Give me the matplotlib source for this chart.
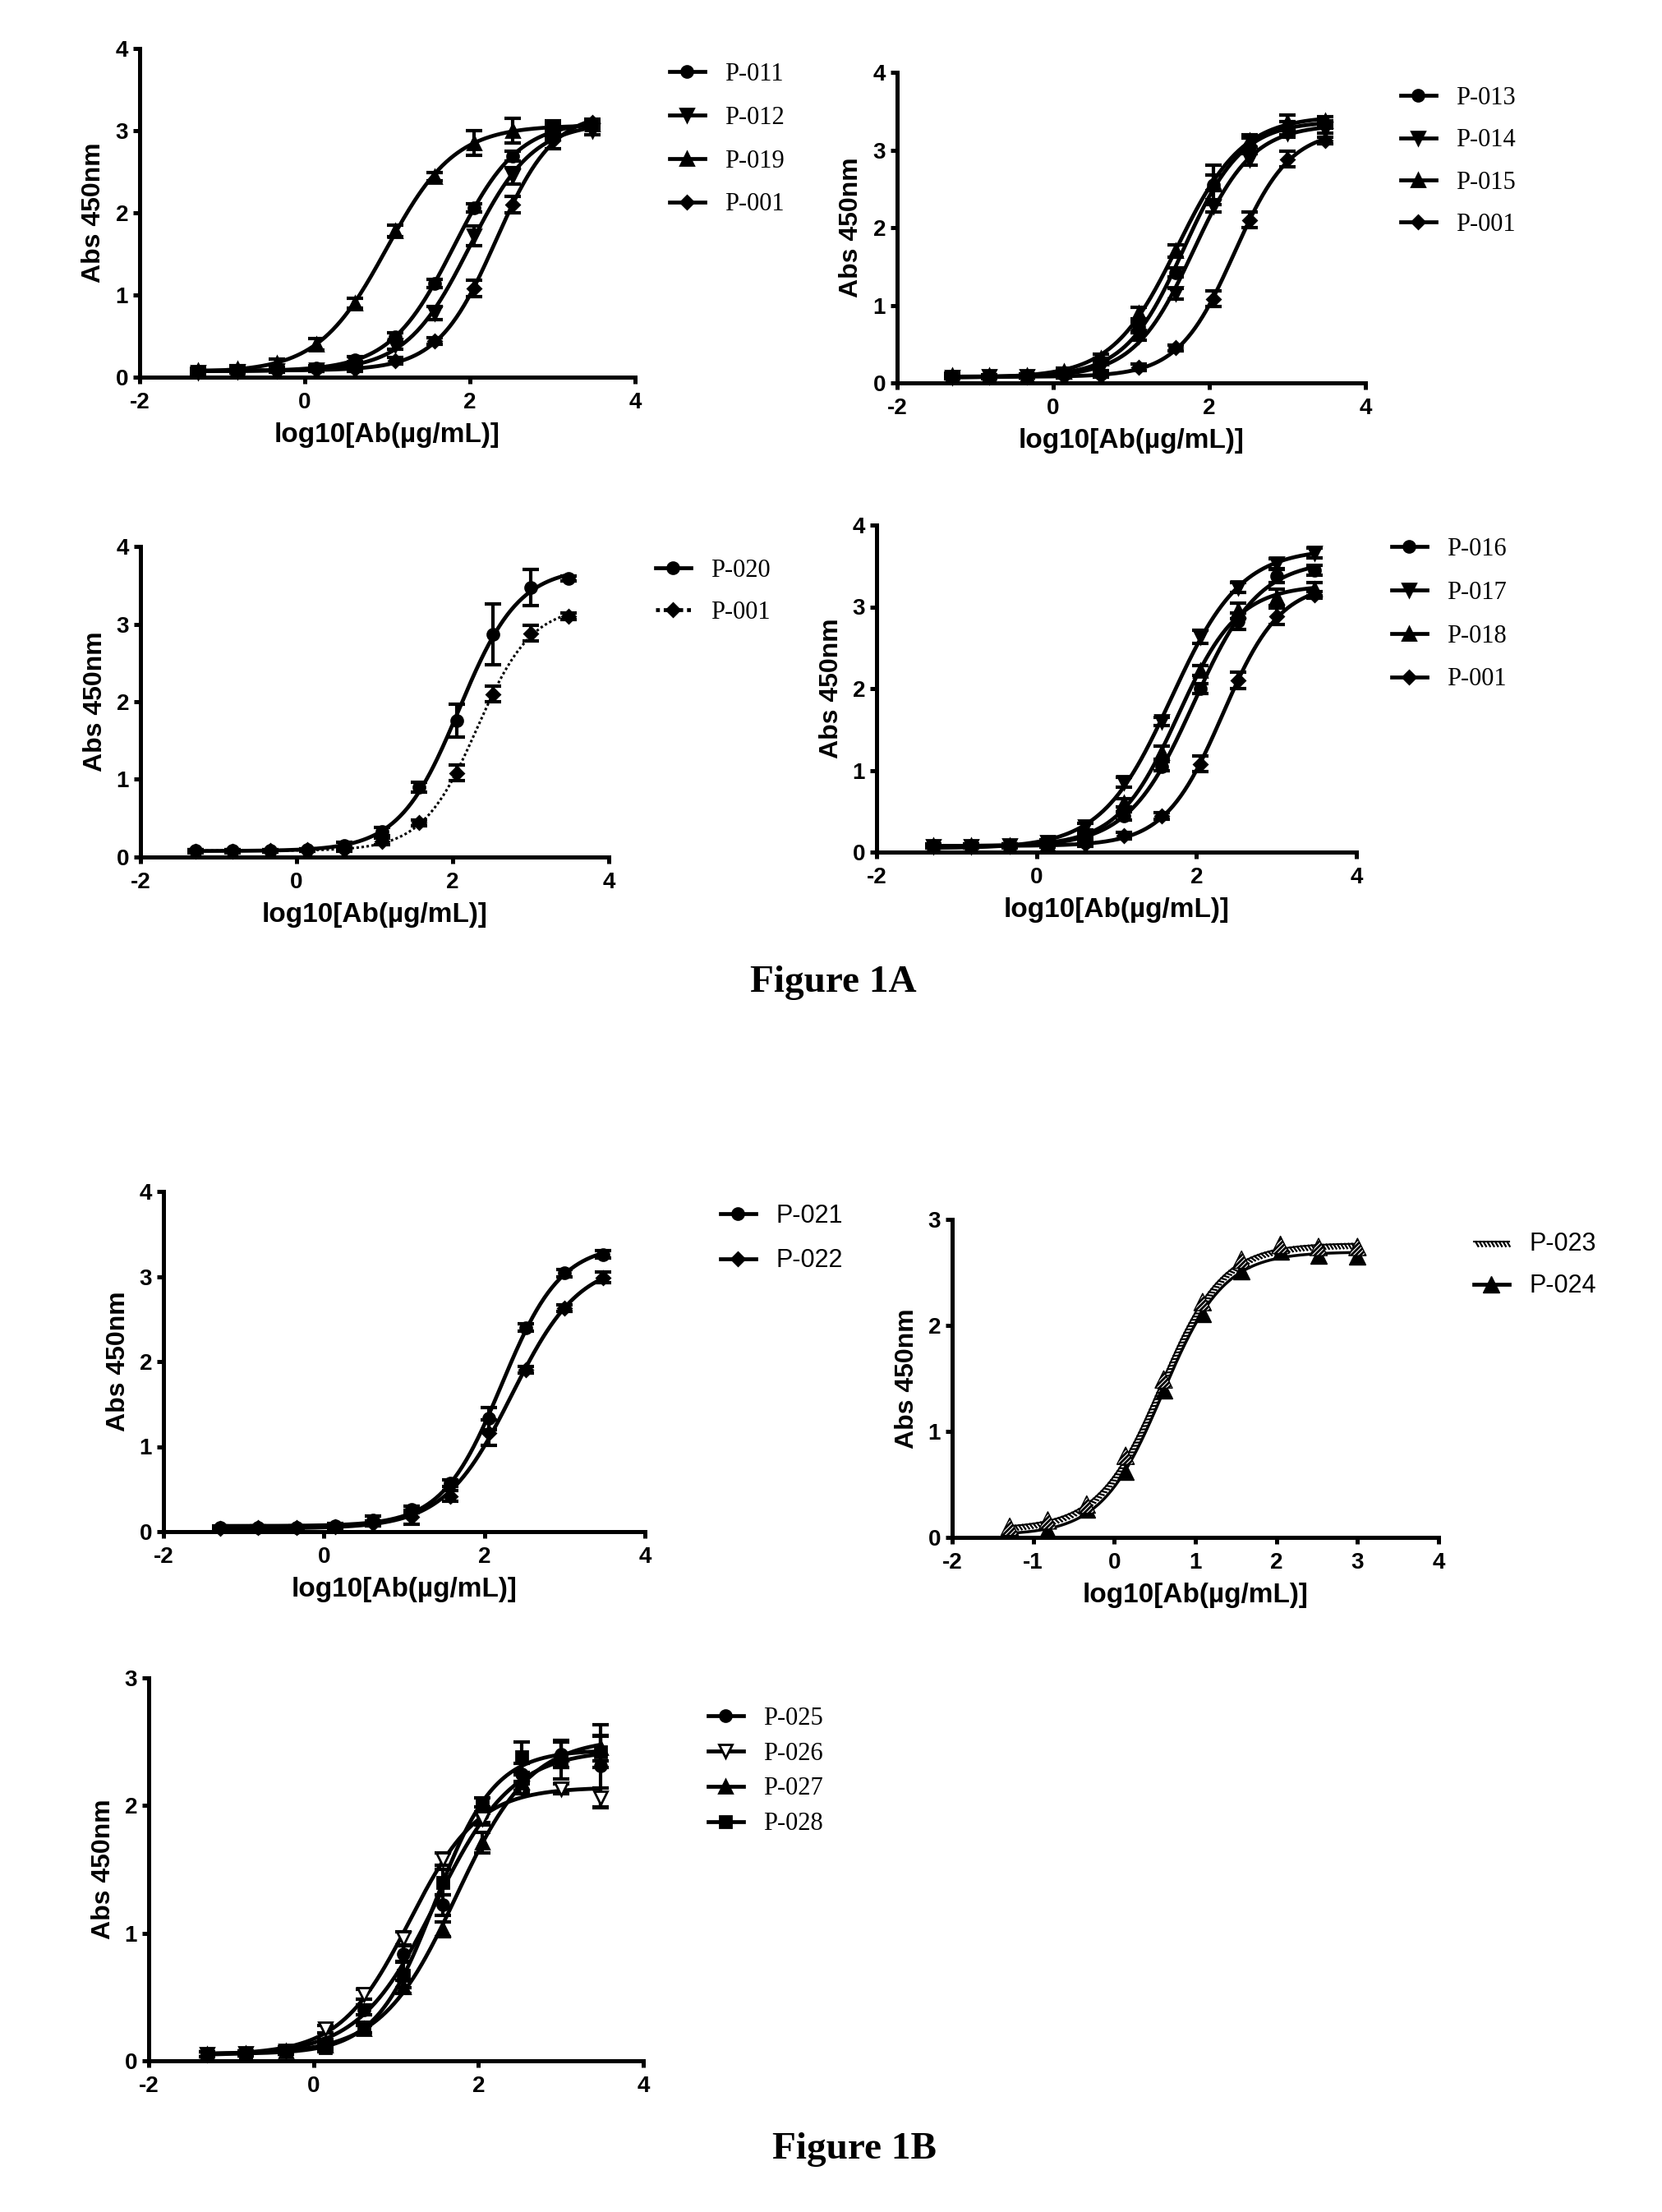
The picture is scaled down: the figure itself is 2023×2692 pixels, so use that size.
import numpy as np
import matplotlib
matplotlib.use("Agg")
import matplotlib.pyplot as plt
from matplotlib.lines import Line2D
import matplotlib.patheffects as pe

# ---------------- data ----------------
x11 = [-1.29, -0.82, -0.34, 0.14, 0.61, 1.09, 1.57, 2.05, 2.52, 3.00, 3.48]
x10 = [-1.29, -0.82, -0.34, 0.14, 0.61, 1.09, 1.57, 2.05, 2.52, 3.00]

p001 = [0.07, 0.07, 0.08, 0.09, 0.10, 0.20, 0.44, 1.08, 2.10, 2.88, 3.10]
p001_err = [0.02, 0.02, 0.02, 0.02, 0.03, 0.04, 0.04, 0.10, 0.10, 0.10, 0.04]

# panel 1
p011 = [0.07, 0.08, 0.09, 0.11, 0.21, 0.49, 1.14, 2.06, 2.69, 3.00, 3.07]
p011_err = [0.02, 0.02, 0.02, 0.03, 0.04, 0.05, 0.05, 0.05, 0.06, 0.08, 0.05]
p012 = [0.06, 0.07, 0.08, 0.09, 0.16, 0.39, 0.78, 1.72, 2.45, 2.95, 3.00]
p012_err = [0.02, 0.02, 0.02, 0.02, 0.03, 0.05, 0.08, 0.12, 0.10, 0.06, 0.05]
p019 = [0.08, 0.10, 0.17, 0.40, 0.90, 1.78, 2.44, 2.85, 3.00, 3.02, 3.08]
p019_err = [0.03, 0.04, 0.05, 0.07, 0.06, 0.07, 0.05, 0.15, 0.15, 0.10, 0.05]

# panel 2
p013 = [0.08, 0.08, 0.08, 0.12, 0.28, 0.72, 1.42, 2.55, 3.05, 3.28, 3.33]
p013_err = [0.02, 0.02, 0.02, 0.03, 0.04, 0.06, 0.06, 0.25, 0.10, 0.08, 0.05]
p014 = [0.07, 0.08, 0.08, 0.10, 0.20, 0.60, 1.15, 2.28, 2.88, 3.22, 3.27]
p014_err = [0.02, 0.02, 0.02, 0.02, 0.04, 0.05, 0.07, 0.08, 0.08, 0.06, 0.05]
p015 = [0.10, 0.09, 0.09, 0.15, 0.32, 0.90, 1.70, 2.58, 3.12, 3.35, 3.38]
p015_err = [0.03, 0.02, 0.03, 0.04, 0.05, 0.07, 0.08, 0.10, 0.08, 0.10, 0.05]
p001_b = [0.07, 0.07, 0.08, 0.08, 0.10, 0.20, 0.45, 1.08, 2.10, 2.88, 3.12]

# panel 3
p020 = [0.08, 0.08, 0.08, 0.09, 0.15, 0.33, 0.90, 1.76, 2.87, 3.47, 3.59]
p020_err = [0.02, 0.02, 0.02, 0.02, 0.04, 0.05, 0.06, 0.21, 0.39, 0.23, 0.03]

# panel 4
p016 = [0.08, 0.08, 0.08, 0.10, 0.16, 0.44, 1.05, 2.00, 2.82, 3.38, 3.45]
p016_err = [0.02, 0.02, 0.02, 0.02, 0.03, 0.05, 0.06, 0.06, 0.10, 0.08, 0.06]
p017 = [0.07, 0.07, 0.08, 0.12, 0.31, 0.85, 1.60, 2.63, 3.24, 3.53, 3.66]
p017_err = [0.02, 0.02, 0.02, 0.03, 0.04, 0.06, 0.05, 0.08, 0.06, 0.06, 0.06]
p018 = [0.08, 0.08, 0.08, 0.10, 0.19, 0.60, 1.22, 2.22, 2.95, 3.12, 3.22]
p018_err = [0.02, 0.02, 0.02, 0.02, 0.04, 0.05, 0.08, 0.06, 0.10, 0.10, 0.08]
p001_d = [0.07, 0.07, 0.07, 0.08, 0.10, 0.20, 0.44, 1.08, 2.10, 2.88, 3.15]

# panel 5
p021 = [0.05, 0.05, 0.05, 0.07, 0.14, 0.26, 0.57, 1.33, 2.40, 3.04, 3.26]
p021_err = [0.02, 0.02, 0.02, 0.03, 0.04, 0.04, 0.04, 0.13, 0.04, 0.04, 0.04]
p022 = [0.04, 0.05, 0.05, 0.06, 0.10, 0.17, 0.42, 1.16, 1.90, 2.63, 2.99]
p022_err = [0.02, 0.02, 0.02, 0.02, 0.03, 0.08, 0.06, 0.15, 0.04, 0.04, 0.06]

# panel 6
p023 = [0.10, 0.16, 0.31, 0.77, 1.49, 2.22, 2.62, 2.76, 2.74, 2.74]
p024 = [0.03, 0.07, 0.26, 0.62, 1.39, 2.11, 2.51, 2.70, 2.66, 2.65]

# panel 7
p025 = [0.05, 0.06, 0.08, 0.14, 0.40, 0.84, 1.22, 1.93, 2.25, 2.40, 2.31]
p025_err = [0.02, 0.02, 0.03, 0.03, 0.04, 0.06, 0.08, 0.06, 0.08, 0.10, 0.32]
p026 = [0.05, 0.06, 0.08, 0.25, 0.52, 0.96, 1.58, 1.90, 2.14, 2.13, 2.06]
p026_err = [0.02, 0.02, 0.03, 0.03, 0.04, 0.05, 0.05, 0.05, 0.05, 0.04, 0.08]
p027 = [0.05, 0.06, 0.08, 0.12, 0.25, 0.58, 1.03, 1.71, 2.18, 2.40, 2.45]
p027_err = [0.02, 0.02, 0.03, 0.03, 0.03, 0.05, 0.06, 0.08, 0.06, 0.10, 0.10]
p028 = [0.05, 0.06, 0.08, 0.10, 0.26, 0.67, 1.40, 2.00, 2.38, 2.36, 2.42]
p028_err = [0.02, 0.02, 0.03, 0.03, 0.04, 0.10, 0.10, 0.06, 0.12, 0.15, 0.12]

xticks_a = [-2, 0, 2, 4]
xticks_b = [-2, -1, 0, 1, 2, 3, 4]
yticks_4 = [0, 1, 2, 3, 4]
yticks_3 = [0, 1, 2, 3]
xlabel = "log10[Ab(\u00b5g/mL)]"
ylabel = "Abs 450nm"

# ---------------- helpers ----------------
W, H = 2023, 2692
DPI = 100
fig = plt.figure(figsize=(W / DPI, H / DPI), dpi=DPI)
plt.rcParams['hatch.linewidth'] = 2.0

SANS = ['Liberation Sans', 'DejaVu Sans']
SERIF = ['Liberation Serif', 'DejaVu Serif']
LW = 3.4


def four_pl(p, x):
    return p[0] + (p[1] - p[0]) / (1.0 + 10.0 ** ((p[2] - x) * p[3]))


def fit4pl(x, y):
    x = np.asarray(x, float)
    y = np.asarray(y, float)
    mid = (y.min() + y.max()) / 2
    p = np.array([y.min(), y.max(), x[np.argmin(np.abs(y - mid))], 1.0])
    lam = 1e-2
    sse = np.sum((y - four_pl(p, x)) ** 2)
    for _ in range(400):
        r = y - four_pl(p, x)
        J = np.zeros((len(x), 4))
        for k in range(4):
            dp = np.zeros(4)
            dp[k] = 1e-6
            J[:, k] = (four_pl(p + dp, x) - four_pl(p - dp, x)) / 2e-6
        A = J.T @ J
        g = J.T @ r
        step = np.linalg.solve(A + lam * np.diag(np.diag(A) + 1e-9), g)
        pn = p + step
        ssen = np.sum((y - four_pl(pn, x)) ** 2)
        if ssen < sse:
            p, sse = pn, ssen
            lam /= 3
        else:
            lam *= 3
    return p


def make_axes(x0, x1, y0, y1):
    return fig.add_axes([x0 / W, 1 - y1 / H, (x1 - x0) / W, (y1 - y0) / H])


def style_axes(ax, ymax, xt, yt, with_xlabel=True):
    ax.set_xlim(-2, 4)
    ax.set_ylim(0, ymax)
    ax.set_xticks(xt)
    ax.set_yticks(yt)
    ax.set_xticklabels([str(v) for v in xt])
    ax.set_yticklabels([str(v) for v in yt])
    for s in ['top', 'right']:
        ax.spines[s].set_visible(False)
    for s in ['left', 'bottom']:
        ax.spines[s].set_linewidth(3.6)
    ax.tick_params(axis='both', direction='out', length=6, width=3.6)
    ax.tick_params(axis='x', pad=7)
    ax.tick_params(axis='y', pad=4)
    for lab in ax.get_xticklabels() + ax.get_yticklabels():
        lab.set_fontfamily(SANS)
        lab.set_fontweight('bold')
        lab.set_fontsize(20)
    ax.set_ylabel(ylabel, fontfamily=SANS, fontweight='bold', fontsize=23, labelpad=8)
    if with_xlabel:
        ax.set_xlabel(xlabel, fontfamily=SANS, fontweight='bold', fontsize=24, labelpad=8)
    ax.set_facecolor('none')


def series(ax, x, y, err, marker, ms, mfc='k', ls='-', curve_effects=None, lw=LW):
    x = np.asarray(x)
    y = np.asarray(y)
    p = fit4pl(x, y)
    xs = np.linspace(x.min(), x.max(), 300)
    ax.plot(xs, four_pl(p, xs), color='k', lw=lw, ls=ls, zorder=3,
            path_effects=curve_effects, solid_capstyle='butt')
    if err is not None:
        ax.errorbar(x, y, yerr=err, fmt='none', ecolor='k', elinewidth=3,
                    capsize=7, capthick=3, zorder=4)
    ax.plot(x, y, ls='none', marker=marker, ms=ms, mfc=mfc, mec='k', mew=2, zorder=5,
            clip_on=False)
    return Line2D([], [], color='k', lw=LW, ls=ls, marker=marker, ms=ms, mfc=mfc,
                  mec='k', mew=2, path_effects=curve_effects)


def legend(ax, handles, labels, x_px, y_px, family, size, spacing):
    ax.legend(handles, labels, loc='upper left',
              bbox_to_anchor=(x_px / W, 1 - y_px / H), bbox_transform=fig.transFigure,
              frameon=False, borderpad=0, borderaxespad=0, handlelength=1.4,
              handletextpad=0.8, labelspacing=spacing,
              prop={'family': family, 'size': size})


# ---------------- Panel 1 ----------------
ax = make_axes(170, 773, 59, 459)
style_axes(ax, 4, xticks_a, yticks_4)
h = [series(ax, x11, p011, p011_err, 'o', 10),
     series(ax, x11, p012, p012_err, 'v', 11),
     series(ax, x11, p019, p019_err, '^', 11),
     series(ax, x11, p001, p001_err, 'D', 8)]
legend(ax, h, ['P-011', 'P-012', 'P-019', 'P-001'], 815, 76, SERIF, 22, 0.78)

# ---------------- Panel 2 ----------------
ax = make_axes(1092, 1662, 88, 466)
style_axes(ax, 4, xticks_a, yticks_4)
h = [series(ax, x11, p013, p013_err, 'o', 10),
     series(ax, x11, p014, p014_err, 'v', 11),
     series(ax, x11, p015, p015_err, '^', 11),
     series(ax, x11, p001_b, p001_err, 'D', 8)]
legend(ax, h, ['P-013', 'P-014', 'P-015', 'P-001'], 1705, 105, SERIF, 22, 0.73)

# ---------------- Panel 3 ----------------
ax = make_axes(171, 741, 665, 1043)
style_axes(ax, 4, xticks_a, yticks_4)
h = [series(ax, x11, p020, p020_err, 'o', 10),
     series(ax, x11, p001, p001_err, 'D', 8, ls=(0, (1, 1)), lw=2.2)]
legend(ax, h, ['P-020', 'P-001'], 798, 680, SERIF, 22, 0.72)

# ---------------- Panel 4 ----------------
ax = make_axes(1067, 1651, 639, 1037)
style_axes(ax, 4, xticks_a, yticks_4)
h = [series(ax, x11, p016, p016_err, 'o', 10),
     series(ax, x11, p017, p017_err, 'v', 11),
     series(ax, x11, p018, p018_err, '^', 11),
     series(ax, x11, p001_d, p001_err, 'D', 8)]
legend(ax, h, ['P-016', 'P-017', 'P-018', 'P-001'], 1694, 654, SERIF, 22, 0.78)

# ---------------- Panel 5 ----------------
ax = make_axes(199, 785, 1450, 1864)
style_axes(ax, 4, xticks_a, yticks_4)
h = [series(ax, x11, p021, p021_err, 'o', 10),
     series(ax, x11, p022, p022_err, 'D', 8)]
legend(ax, h, ['P-021', 'P-022'], 877, 1465, SANS, 22, 0.8)

# ---------------- Panel 6 ----------------
ax = make_axes(1159, 1751, 1484, 1871)
style_axes(ax, 3, xticks_b, yticks_3)
# P-024: solid curve with filled triangles
p = fit4pl(x10, p024)
xs = np.linspace(min(x10), max(x10), 300)
ax.plot(xs, four_pl(p, xs), color='k', lw=2.5, zorder=3)
ax.plot(x10, p024, ls='none', marker='^', ms=14, mfc='k', mec='k', zorder=4)
# P-023: hatched curve with hatched triangles
tick_fx = [pe.withTickedStroke(spacing=3.2, angle=-60, length=1.4, linewidth=1.6)]
p = fit4pl(x10, p023)
ax.plot(xs, four_pl(p, xs), color='k', lw=1.5, zorder=5, path_effects=tick_fx)
ax.scatter(x10, p023, marker='^', s=230, facecolor='white', edgecolor='k',
           hatch='//////', linewidths=1.0, zorder=6, clip_on=False)
h6 = [Line2D([], [], color='k', lw=1.5, path_effects=tick_fx),
      Line2D([], [], color='k', lw=LW, marker='^', ms=14, mfc='k', mec='k')]
legend(ax, h6, ['P-023', 'P-024'], 1794, 1499, SANS, 22, 0.7)

# ---------------- Panel 7 ----------------
ax = make_axes(181, 783, 2042, 2508)
style_axes(ax, 3, xticks_a, yticks_3, with_xlabel=False)
h = [series(ax, x11, p025, p025_err, 'o', 10),
     series(ax, x11, p026, p026_err, 'v', 11, mfc='white'),
     series(ax, x11, p027, p027_err, '^', 11),
     series(ax, x11, p028, p028_err, 's', 10)]
legend(ax, h, ['P-025', 'P-026', 'P-027', 'P-028'], 862, 2077, SERIF, 22, 0.45)

# ---------------- captions ----------------
fig.text(1014 / W, 1 - 1207 / H, "Figure 1A", ha='center', va='baseline',
         fontfamily=SERIF, fontweight='bold', fontsize=34)
fig.text(1040 / W, 1 - 2627 / H, "Figure 1B", ha='center', va='baseline',
         fontfamily=SERIF, fontweight='bold', fontsize=34)

fig.savefig("out.png", dpi=DPI, facecolor='white')
